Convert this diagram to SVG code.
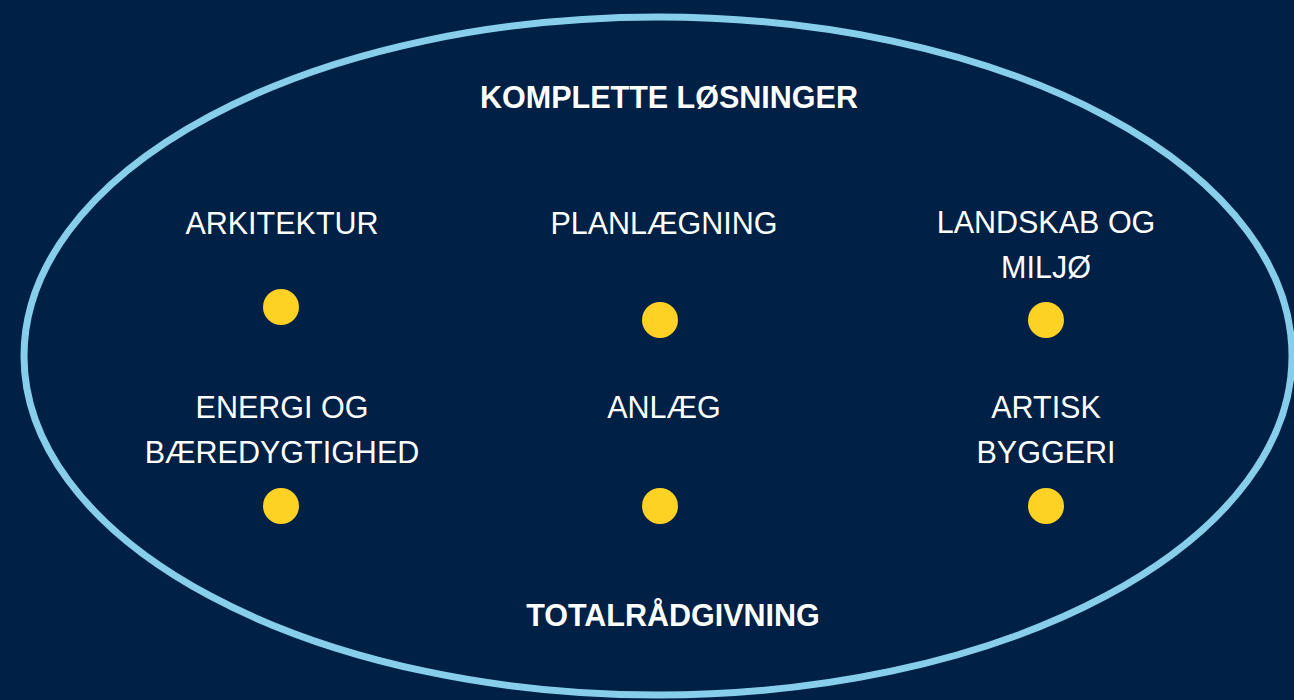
<svg xmlns="http://www.w3.org/2000/svg" width="1294" height="700" viewBox="0 0 1294 700">
<style>
.t{font-family:"Liberation Sans",Arial,sans-serif;font-size:30.5px;fill:#ffffff;text-anchor:middle}
.b{font-weight:bold}
.dot{fill:#FDD224}
</style>
<rect width="1294" height="700" fill="#002045"/>
<g id="boundary">
<ellipse cx="658" cy="356" rx="634" ry="339" fill="none" stroke="#87CEEB" stroke-width="7"/>
<text class="t b" x="669" y="108">KOMPLETTE LØSNINGER</text>
<text class="t b" x="673" y="626">TOTALRÅDGIVNING</text>
</g>
<g id="connectors"></g>
<g id="arkitektur"><text class="t" x="282" y="234">ARKITEKTUR</text><circle class="dot" cx="281" cy="307" r="18"/></g>
<g id="planlaegning"><text class="t" x="664" y="234">PLANLÆGNING</text><circle class="dot" cx="660" cy="320" r="18"/></g>
<g id="landskab"><text class="t" x="1046" y="233">LANDSKAB OG</text><text class="t" x="1046" y="278">MILJØ</text><circle class="dot" cx="1046" cy="320" r="18"/></g>
<g id="energi"><text class="t" x="282" y="418">ENERGI OG</text><text class="t" x="282" y="463">BÆREDYGTIGHED</text><circle class="dot" cx="281" cy="506" r="18"/></g>
<g id="anlaeg"><text class="t" x="664" y="418">ANLÆG</text><circle class="dot" cx="660" cy="506" r="18"/></g>
<g id="artisk"><text class="t" x="1046" y="418">ARTISK</text><text class="t" x="1046" y="463">BYGGERI</text><circle class="dot" cx="1046" cy="506" r="18"/></g>
</svg>
